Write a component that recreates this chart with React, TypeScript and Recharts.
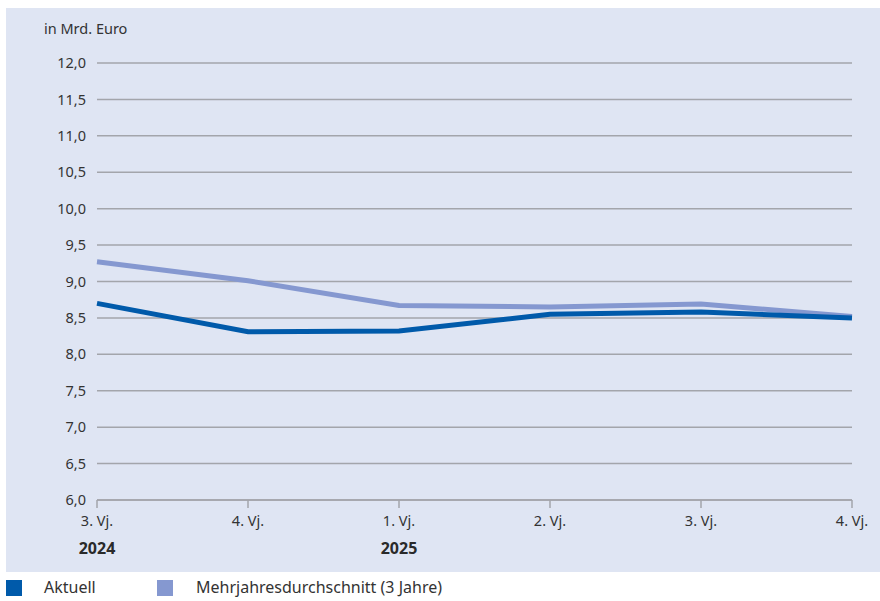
import React from "react";
import { LineChart, Line, XAxis, YAxis, CartesianGrid } from "recharts";

const quarters = ["3. Vj.", "4. Vj.", "1. Vj.", "2. Vj.", "3. Vj.", "4. Vj."];
const years = ["2024", "", "2025", "", "", ""];
const aktuell = [8.7, 8.31, 8.32, 8.55, 8.58, 8.5];
const mehrjahr = [9.27, 9.01, 8.67, 8.65, 8.69, 8.52];
const yTicks = [6, 6.5, 7, 7.5, 8, 8.5, 9, 9.5, 10, 10.5, 11, 11.5, 12];

const data = quarters.map((q, i) => ({
  idx: i,
  q,
  year: years[i],
  aktuell: aktuell[i],
  mehrjahr: mehrjahr[i],
}));

const FONT = "'Noto Sans', Lato, sans-serif";
const DARK = "#005aaa";
const LIGHT = "#8598d0";
const GRID = "#a3a5ab";

function XTick(props: any) {
  const { x, y, payload } = props;
  const d = data[payload.value];
  return (
    <g>
      <text x={x} y={y + 16} textAnchor="middle" fill="#333" fontSize={14.5} fontFamily={FONT}>
        {d.q}
      </text>
      {d.year && (
        <text x={x} y={y + 44} textAnchor="middle" fill="#2a2a2a" fontSize={16} fontWeight="bold" fontFamily={FONT}>
          {d.year}
        </text>
      )}
    </g>
  );
}

export default function App() {
  return (
    <div style={{ position: "absolute", left: 0, top: 0, width: 880, height: 601, background: "#fff", fontFamily: FONT }}>
      <div style={{ position: "absolute", left: 6, top: 8, width: 874, height: 564, background: "#dfe5f3" }} />
      <div style={{ position: "absolute", left: 44, top: 18, fontSize: 14.5, color: "#333", lineHeight: "20px" }}>in Mrd. Euro</div>
      <div style={{ position: "absolute", left: 0, top: 0 }}>
        <LineChart width={880} height={572} data={data} margin={{ top: 63, right: 28, left: 0, bottom: 0 }}>
          <CartesianGrid vertical={false} stroke={GRID} strokeWidth={1.5} />
          <XAxis
            dataKey="idx"
            type="number"
            domain={[0, 5]}
            ticks={[0, 1, 2, 3, 4, 5]}
            height={72}
            tickSize={8}
            axisLine={{ stroke: GRID, strokeWidth: 1.5 }}
            tickLine={{ stroke: GRID, strokeWidth: 1.5 }}
            tick={<XTick />}
            interval={0}
          />
          <YAxis
            domain={[6, 12]}
            ticks={yTicks}
            width={97}
            axisLine={false}
            tickLine={false}
            tickSize={0}
            tickMargin={11}
            interval={0}
            tick={{ fill: "#333", fontSize: 14.5, fontFamily: FONT }}
            tickFormatter={(v: number) => v.toFixed(1).replace(".", ",")}
          />
          <Line dataKey="mehrjahr" stroke={LIGHT} strokeWidth={5} dot={false} isAnimationActive={false} />
          <Line dataKey="aktuell" stroke={DARK} strokeWidth={5} dot={false} isAnimationActive={false} />
        </LineChart>
      </div>
      <div style={{ position: "absolute", left: 6, top: 580, width: 16, height: 16, background: DARK }} />
      <div style={{ position: "absolute", left: 44, top: 577, fontSize: 16, color: "#333", lineHeight: "20px" }}>Aktuell</div>
      <div style={{ position: "absolute", left: 157, top: 580, width: 16, height: 16, background: LIGHT }} />
      <div style={{ position: "absolute", left: 196, top: 577, fontSize: 16, color: "#333", lineHeight: "20px" }}>Mehrjahresdurchschnitt (3 Jahre)</div>
    </div>
  );
}
